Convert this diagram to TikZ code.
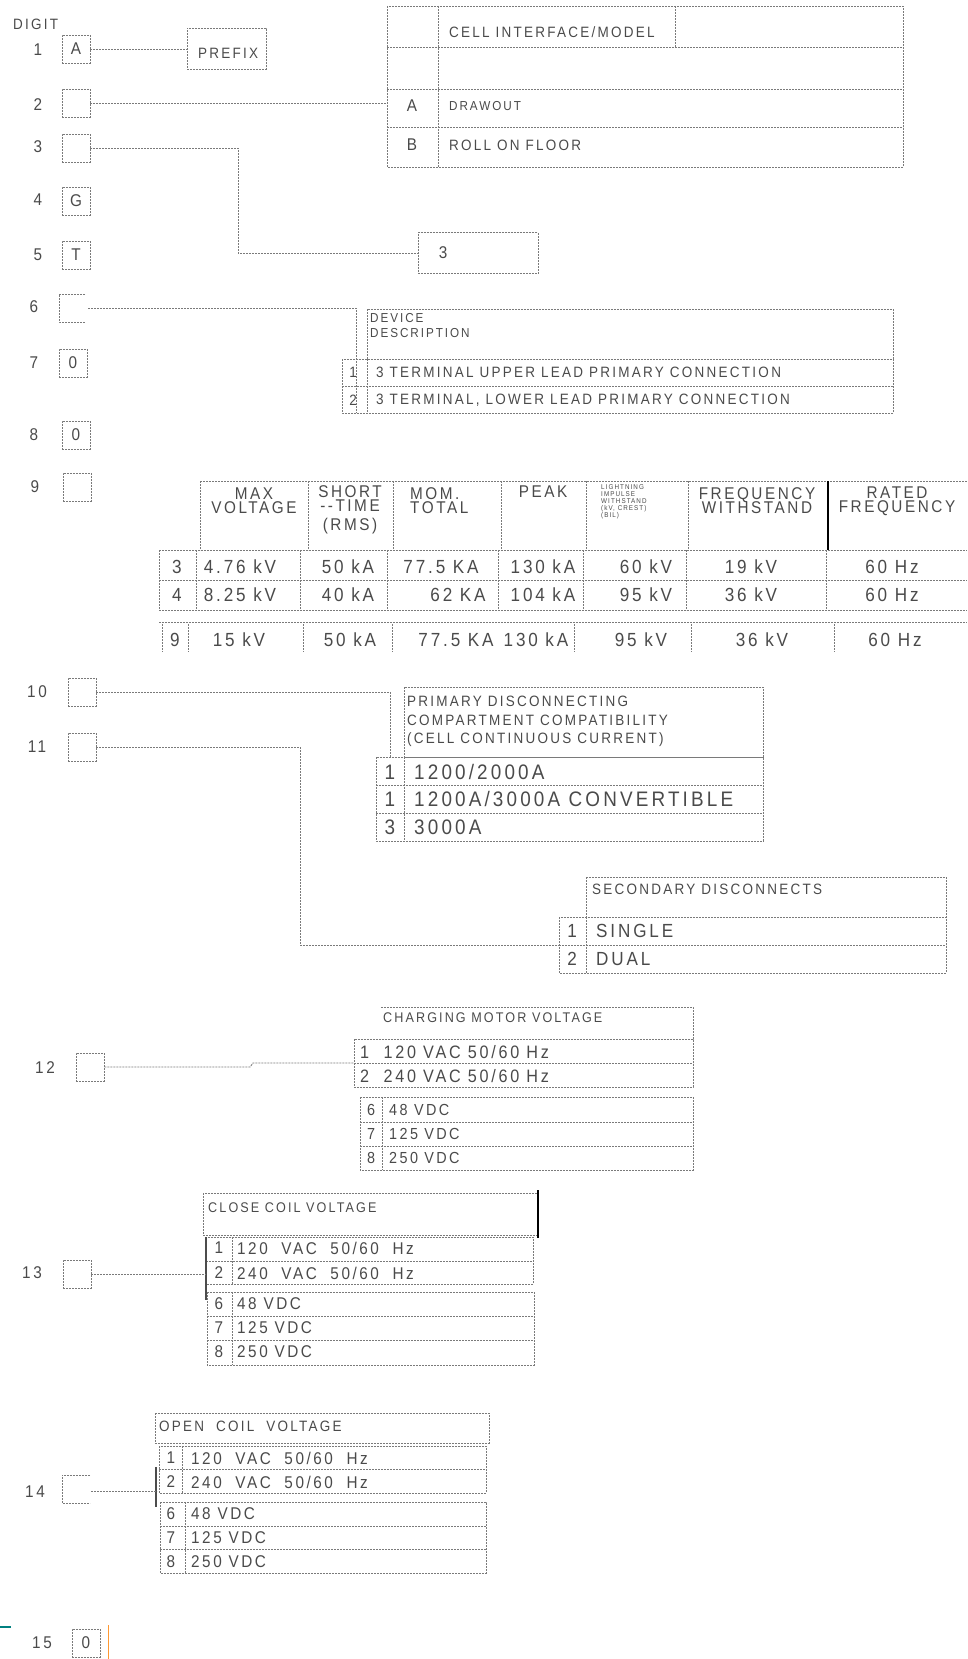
\documentclass[tikz,border=0pt]{standalone}
\usepackage{fontspec}
\setmainfont{Liberation Sans}
\newfontfamily\cad[FakeStretch=0.9,LetterSpace=15]{Liberation Sans}
\usepackage{tikz}
\usetikzlibrary{positioning,calc}
\definecolor{cadline}{HTML}{7A7A7A}
\definecolor{cadtext}{HTML}{4A4A4A}
\tikzset{
  cline/.style={draw=cadline,line width=0.9pt,dash pattern=on 2pt off 1pt},
  digbox/.style={cline,minimum width=28pt,minimum height=28pt,inner sep=0pt,text=cadtext,font=\cad\fontsize{17}{17}\selectfont},
  diglbl/.style={text=cadtext,inner sep=0pt,font=\cad\fontsize{17}{17}\selectfont},
  txt/.style={text=cadtext,inner sep=0pt,anchor=west,align=left,font=\cad\fontsize{#1}{#1}\selectfont},
  ctxt/.style={text=cadtext,inner sep=0pt,align=center,font=\cad\fontsize{#1}{#1}\selectfont},
}
\begin{document}
\begin{tikzpicture}[x=1pt,y=-1pt]
\useasboundingbox (0,0) rectangle (967,1659);
\node[txt=15] (digit) at (13,24) {DIGIT};
\foreach \n/\lx/\ly/\bx/\by/\t in {1/38/50/76/49/A,2/38/105/76/103/{},3/38/147/76/148/{},4/38/200/76/201/G,5/38/255/76/255/T,7/34/363/73/363/0,8/34/435/76/435/0,9/35/487/77/487/{},10/37/692/82/692/{},11/37/747/82/747/{},12/45/1068/90/1067/{},13/32/1273/77/1274/{},15/42/1643/86/1643/0}{
  \node[diglbl] (n\n) at (\lx,\ly) {\n};
  \node[digbox] (d\n) at (\bx,\by) {\t};
}
\node[diglbl] (n6) at (34,307) {6};
\draw[cline] (85,294) -- (59,294) -- (59,322) -- (85,322);
\coordinate (d6) at (88,308);
\node[diglbl] (n14) at (35,1492) {14};
\draw[cline] (90,1475) -- (62,1475) -- (62,1503) -- (90,1503);
\coordinate (d14) at (91,1491);

% digit 1
\node[cline,minimum width=79pt,minimum height=41pt,inner sep=0pt] (prefix) at (226.5,49) {};
\node[txt=15] (prefixt) at (198,53) {PREFIX};
\draw[cline] (d1.east) -- (prefix.west);

% digit 2
\coordinate (cellA) at (387,103);
\draw[cline] (387,6) rectangle (903,167);
\foreach \y in {47,89,127} \draw[cline] (387,\y) -- (903,\y);
\draw[cline] (438,6) -- (438,167);
\draw[cline] (675,6) -- (675,47);
\node[txt=15] (cellh) at (449,32) {CELL INTERFACE/MODEL};
\node[ctxt=17] (cellka) at (412,106) {A};
\node[txt=13] (cellta) at (449,106) {DRAWOUT};
\node[ctxt=17] (cellkb) at (412,145) {B};
\node[txt=15] (celltb) at (449,145) {ROLL ON FLOOR};
\draw[cline] (d2.east) -- (cellA);

% digit 3
\node[cline,minimum width=120pt,minimum height=41pt,inner sep=0pt,anchor=west] (opt3) at (418,253) {};
\node[ctxt=17] (opt3t) at (443,253) {3};
\draw[cline] (d3.east) -- (238,148) -- (238,253) -- (opt3.west);

% digit 6
\draw[cline] (367,309) rectangle (893,359);
\draw[cline] (342,359) rectangle (893,413);
\draw[cline] (342,386) -- (893,386);
\draw[cline] (367,359) -- (367,413);
\node[txt=13] (devh1) at (370,318) {DEVICE};
\node[txt=13] (devh2) at (370,333) {DESCRIPTION};
\node[ctxt=15] (devk1) at (353,372) {1};
\node[txt=15] (devt1) at (376,372) {3 TERMINAL UPPER LEAD PRIMARY CONNECTION};
\node[ctxt=15] (devk2) at (353,400) {2};
\node[txt=15] (devt2) at (376,400) {3 TERMINAL, LOWER LEAD PRIMARY CONNECTION};
\draw[cline] (d6) -- (356,308) -- (356,413);

% digit 9
\draw[cline] (200,481) -- (967,481);
\foreach \x in {200,308,393,501,586,688} \draw[cline] (\x,481) -- (\x,550);
\draw[black,line width=1.2pt] (828,481) -- (828,550);
\foreach \y in {550,580,610} \draw[cline] (159,\y) -- (967,\y);
\foreach \x in {159,196,300,387,498,583,686,826} \draw[cline] (\x,550) -- (\x,610);
\draw[cline] (159,622) -- (967,622);
\foreach \x in {162,188,303,392,574,691,834} \draw[cline] (\x,624) -- (\x,652);
\node[ctxt=17] (h1) at (254,501) {MAX\\[-3pt]VOLTAGE};
\node[ctxt=17,anchor=north] (h2) at (350,485) {SHORT\\[-3pt]--TIME\\[2pt](RMS)};
\node[txt=17] (h3) at (410,501) {MOM.\\[-3pt]TOTAL};
\node[ctxt=17] (h4) at (543,492) {PEAK};
\node[txt=7,anchor=north west] (h5) at (601,484) {LIGHTNING\\IMPULSE\\WITHSTAND\\(kV, CREST)\\(BIL)};
\node[ctxt=17] (h6) at (757,501) {FREQUENCY\\[-3pt]WITHSTAND};
\node[ctxt=17] (h7) at (897,501) {RATED\\[-3pt]FREQUENCY};
\foreach \y/\k/\a/\b/\c/\d/\e/\f/\g/\cx in {567/3/4.76 kV/50 kA/77.5 KA/130 kA/60 kV/19 kV/60 Hz/441,595/4/8.25 kV/40 kA/62 KA/104 kA/95 kV/36 kV/60 Hz/458}{
  \node[ctxt=19] at (177,\y) {\k};
  \node[ctxt=19] at (240,\y) {\a};
  \node[ctxt=19] at (348,\y) {\b};
  \node[ctxt=19] at (\cx,\y) {\c};
  \node[ctxt=19] at (543,\y) {\d};
  \node[ctxt=19] at (646,\y) {\e};
  \node[ctxt=19] at (751,\y) {\f};
  \node[ctxt=19] at (892,\y) {\g};
}
\node[ctxt=19] (r9k) at (175,640) {9};
\node[ctxt=19] (r9a) at (239,640) {15 kV};
\node[ctxt=19] (r9b) at (350,640) {50 kA};
\node[ctxt=19] (r9c) at (456,640) {77.5 KA};
\node[ctxt=19] (r9d) at (536,640) {130 kA};
\node[ctxt=19] (r9e) at (641,640) {95 kV};
\node[ctxt=19] (r9f) at (762,640) {36 kV};
\node[ctxt=19] (r9g) at (895,640) {60 Hz};

% digit 10
\draw[cline] (404,687) rectangle (763,757);
\draw[cline] (376,757) rectangle (763,841);
\foreach \y in {785,813} \draw[cline] (376,\y) -- (763,\y);
\draw[cline] (404,757) -- (404,841);
\node[txt=15] (pdh1) at (407,701) {PRIMARY DISCONNECTING};
\node[txt=15] (pdh2) at (407,720) {COMPARTMENT COMPATIBILITY};
\node[txt=15] (pdh3) at (407,740) {(CELL CONTINUOUS CURRENT)};
\foreach \y/\k/\t in {772/1/{1200/2000A},799/1/{1200A/3000A CONVERTIBLE},827/3/{3000A}}{
  \node[ctxt=21] at (390,\y) {\k};
  \node[txt=21] at (414,\y) {\t};
}
\draw[cline] (d10.east) -- (390,692) -- (390,757);

% digit 11
\draw[cline] (586,877) rectangle (946,917);
\draw[cline] (559,917) rectangle (946,973);
\draw[cline] (559,945) -- (946,945);
\draw[cline] (586,917) -- (586,973);
\node[txt=15] (sdh) at (592,889) {SECONDARY DISCONNECTS};
\node[ctxt=19] (sdk1) at (572,931) {1};
\node[txt=19] (sdt1) at (596,931) {SINGLE};
\node[ctxt=19] (sdk2) at (572,959) {2};
\node[txt=19] (sdt2) at (596,959) {DUAL};
\draw[cline] (d11.east) -- (300,747) -- (300,945) -- (559,945);

% digit 12
\draw[cline] (381,1007) -- (693,1007) -- (693,1039);
\draw[cline] (354,1039) rectangle (693,1087);
\draw[cline] (354,1063) -- (693,1063);
\draw[cline] (360,1097) rectangle (693,1170);
\foreach \y in {1122,1146} \draw[cline] (360,\y) -- (693,\y);
\draw[cline] (382,1097) -- (382,1170);
\node[txt=14] (cmh) at (383,1018) {CHARGING MOTOR VOLTAGE};
\node[txt=18] (cm1) at (360,1052) {1~~120 VAC 50/60 Hz};
\node[txt=18] (cm2) at (360,1076) {2~~240 VAC 50/60 Hz};
\foreach \y/\k/\t in {1110/6/48 VDC,1134/7/125 VDC,1158/8/250 VDC}{
  \node[ctxt=16] at (371,\y) {\k};
  \node[txt=16] at (389,\y) {\t};
}
\draw[cline] (d12.east) -- (250,1067) -- (253,1063) -- (354,1063);

% digit 13
\draw[cline] (203,1193) rectangle (538,1235);
\draw[black,line width=2.2pt] (538,1190) -- (538,1238);
\draw[cline] (206,1237) rectangle (533,1284);
\draw[cline] (206,1261) -- (533,1261);
\draw[cline] (232,1237) -- (232,1284);
\draw[black!70,line width=1.2pt] (206,1237) -- (206,1300);
\draw[cline] (207,1292) rectangle (534,1365);
\foreach \y in {1316,1340} \draw[cline] (207,\y) -- (534,\y);
\draw[cline] (232,1292) -- (232,1365);
\node[txt=14] (cch) at (208,1208) {CLOSE COIL VOLTAGE};
\foreach \y/\k/\t in {1248/1/{120~~VAC~~50/60~~Hz},1273/2/{240~~VAC~~50/60~~Hz},1304/6/{48 VDC},1328/7/{125 VDC},1352/8/{250 VDC}}{
  \node[ctxt=17] at (219,\y) {\k};
  \node[txt=17] at (237,\y) {\t};
}
\draw[cline] (d13.east) -- (206,1274);

% digit 14
\draw[cline] (155,1413) rectangle (489,1443);
\draw[cline] (159,1446) rectangle (486,1493);
\draw[cline] (159,1469) -- (486,1469);
\draw[cline] (182,1446) -- (182,1493);
\draw[black!70,line width=1.2pt] (156,1467) -- (156,1507);
\draw[cline] (160,1502) rectangle (486,1573);
\foreach \y in {1526,1549} \draw[cline] (160,\y) -- (486,\y);
\draw[cline] (185,1502) -- (185,1573);
\node[txt=15] (och) at (159,1426) {OPEN~~COIL~~VOLTAGE};
\foreach \y/\k/\t in {1458/1/{120~~VAC~~50/60~~Hz},1482/2/{240~~VAC~~50/60~~Hz},1514/6/{48 VDC},1538/7/{125 VDC},1562/8/{250 VDC}}{
  \node[ctxt=17] at (171,\y) {\k};
  \node[txt=17] at (191,\y) {\t};
}
\draw[cline] (d14) -- (157,1491);

% digit 15
\draw[orange!80,line width=1pt] (108,1625) -- (108,1659);
\draw[teal,line width=2pt] (0,1627) -- (11,1627);
\end{tikzpicture}
\end{document}
